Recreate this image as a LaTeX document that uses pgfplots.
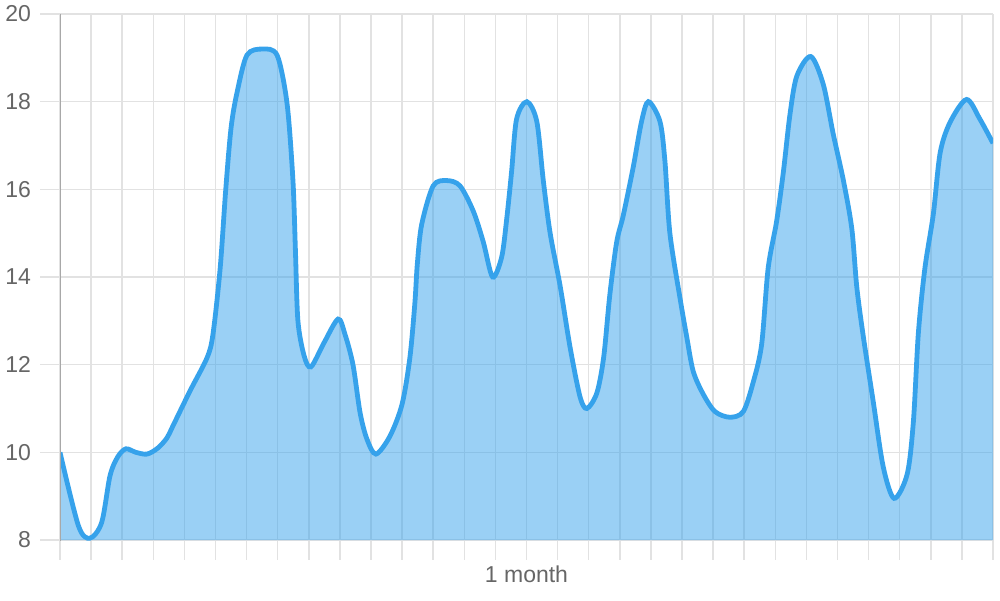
\documentclass[border=0pt]{standalone}
\usepackage{fontspec}
\setmainfont{Liberation Sans}
\usepackage{pgfplots}
\usepackage{pgfplotstable}
\pgfplotsset{compat=1.18}

\definecolor{cblue}{RGB}{54,162,235}
\definecolor{gridgray}{RGB}{226,226,226}
\definecolor{labelgray}{RGB}{102,102,102}
\definecolor{axisgray}{RGB}{168,168,168}

% curve: day (0..30) and value
\pgfplotstableread{
x y
0.00 10.00
0.59 8.33
0.96 8.04
1.34 8.40
1.61 9.47
1.86 9.90
2.12 10.08
2.44 10.00
2.80 9.96
3.15 10.10
3.44 10.33
3.63 10.60
4.18 11.40
4.73 12.16
4.92 12.70
5.15 14.20
5.33 16.00
5.50 17.40
5.69 18.20
6.01 19.06
6.50 19.20
6.98 19.06
7.30 17.96
7.49 16.20
7.57 14.60
7.65 13.00
7.85 12.20
8.07 11.95
8.49 12.50
8.94 13.04
9.16 12.70
9.42 12.00
9.65 10.90
9.87 10.30
10.16 9.96
10.61 10.37
11.00 11.10
11.25 12.16
11.41 13.40
11.49 14.30
11.63 15.20
12.00 16.08
12.43 16.20
12.86 16.08
13.29 15.50
13.61 14.80
13.91 14.00
14.20 14.45
14.36 15.30
14.52 16.40
14.68 17.60
15.01 18.00
15.33 17.55
15.54 16.20
15.76 15.00
16.08 13.80
16.40 12.40
16.72 11.27
16.94 11.00
17.26 11.35
17.48 12.16
17.68 13.60
17.90 14.80
18.11 15.40
18.43 16.50
18.70 17.55
18.92 18.00
19.29 17.55
19.45 16.65
19.61 15.00
19.94 13.50
20.15 12.64
20.36 11.85
20.68 11.33
21.06 10.93
21.54 10.80
21.97 10.93
22.29 11.60
22.56 12.46
22.77 14.20
23.04 15.26
23.26 16.40
23.47 17.70
23.69 18.58
24.14 19.03
24.54 18.40
24.86 17.27
25.19 16.20
25.46 15.10
25.62 13.77
25.83 12.64
26.15 11.15
26.47 9.67
26.82 8.95
27.24 9.50
27.44 10.70
27.60 12.72
27.81 14.20
28.08 15.43
28.30 16.83
28.62 17.53
29.15 18.05
29.58 17.60
30.00 17.05
}\series

\begin{document}
\begin{tikzpicture}
\begin{axis}[
    width=466.5pt, height=263pt,
    scale only axis,
    xmin=0, xmax=30, ymin=8, ymax=20,
    xtick={0,...,30}, xticklabels={},
    ytick={8,10,...,20},
    xtick pos=bottom, ytick pos=left,
    tick align=outside,
    major tick length=10pt,
    tick style={gridgray, line width=0.75pt},
    grid=major,
    major grid style={gridgray, line width=0.75pt},
    axis line style={draw=none},
    font=\fontsize{11.5}{13}\selectfont,
    /pgf/number format/assume math mode=true,
    yticklabel style={labelgray, xshift=-1pt},
    xlabel={1 month},
    xlabel style={labelgray, at={(axis description cs:0.5,0)}, anchor=base, yshift=-21pt},
]
\addplot[draw=none, fill=cblue, fill opacity=0.5, smooth, tension=0.5] table {\series} \closedcycle;
\addplot[cblue, line width=2.4pt, smooth, tension=0.5] table {\series};
\draw[axisgray, line width=0.8pt] (rel axis cs:0,1) -- ([yshift=-10pt]rel axis cs:0,0);
\coordinate (sw) at (rel axis cs:0,0);
\coordinate (ne) at (rel axis cs:1,1);
\end{axis}
\pgfresetboundingbox
\path ([shift={(-30pt,-30pt)}]sw) rectangle ([shift={(3.5pt,7pt)}]ne);
\end{tikzpicture}
\end{document}
